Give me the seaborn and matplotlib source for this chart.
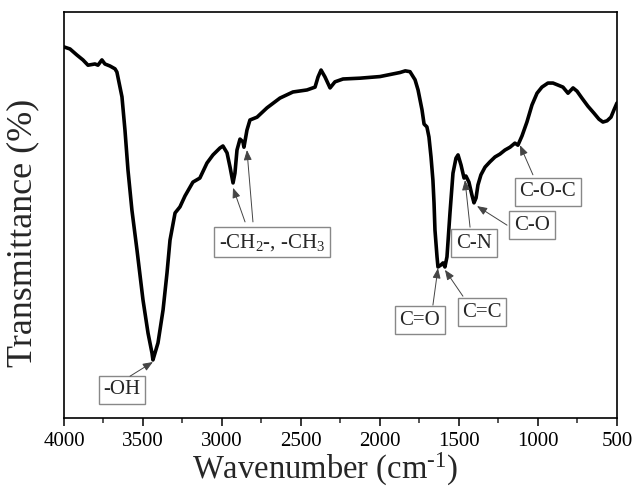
import matplotlib
matplotlib.use("Agg")
import matplotlib.pyplot as plt
from matplotlib.ticker import MultipleLocator
import seaborn as sns
import pandas as pd

# FTIR spectrum: wavenumber (cm^-1) and transmittance (%)
wavenumber = [4000, 3962, 3918, 3880, 3848, 3804, 3785, 3760, 3741, 3709, 3677, 3665,
              3633, 3614, 3595, 3570, 3538, 3500, 3468, 3443, 3437, 3405, 3373, 3348,
              3329, 3297, 3266, 3234, 3184, 3140, 3095, 3057, 3013, 2994, 2968, 2949,
              2930, 2918, 2905, 2886, 2867, 2861, 2842, 2823, 2778, 2715, 2633, 2551,
              2462, 2411, 2392, 2373, 2348, 2316, 2285, 2234, 2127, 2000, 1873, 1840,
              1810, 1778, 1759, 1734, 1721, 1703, 1690, 1677, 1665, 1658, 1652, 1639,
              1633, 1614, 1601, 1589, 1576, 1557, 1538, 1519, 1506, 1487, 1468, 1456,
              1437, 1418, 1405, 1392, 1380, 1361, 1335, 1304, 1272, 1241, 1209, 1177,
              1146, 1127, 1101, 1070, 1038, 1006, 975, 937, 905, 873, 842, 810, 778,
              753, 722, 684, 646, 614, 589, 563, 538, 519, 500]
transmittance = [91.4, 90.9, 89.4, 88.2, 86.9, 87.2, 86.9, 88.2, 87.2, 86.7, 86.0, 85.2,
                 79.1, 70.9, 61.1, 51.2, 41.4, 29.1, 20.9, 16.0, 14.3, 18.5, 26.6, 35.7,
                 43.8, 50.5, 52.0, 54.7, 58.1, 59.1, 62.8, 64.8, 66.5, 67.0, 65.3, 61.8,
                 57.9, 60.3, 66.0, 68.7, 68.0, 66.7, 70.9, 73.4, 74.1, 76.4, 78.8, 80.3,
                 80.8, 81.5, 84.0, 85.7, 84.0, 81.3, 82.8, 83.5, 83.7, 84.1, 85.1, 85.5,
                 85.3, 83.3, 80.8, 75.9, 72.4, 71.7, 69.2, 64.3, 58.6, 53.0, 46.3, 39.7,
                 37.2, 37.7, 38.2, 37.2, 39.7, 50.5, 60.3, 64.0, 64.8, 62.3, 59.1, 59.6,
                 58.1, 54.9, 53.0, 54.2, 57.4, 59.9, 61.8, 63.1, 64.3, 65.0, 66.0, 66.7,
                 67.7, 67.2, 69.5, 72.9, 77.1, 80.0, 81.5, 82.5, 82.5, 82.0, 81.5, 80.0,
                 81.3, 80.5, 78.8, 76.8, 75.1, 73.6, 72.9, 73.2, 74.1, 75.9, 77.6]

# Band assignments: label, label position (wn, T), arrow targets (wn, T), arrow tails (wn, T)
band_labels = ["-OH", "-CH$_2$-, -CH$_3$", "C=O", "C=C", "C-N", "C-O", "C-O-C"]
label_pos = [(3633, 6.9), (2684, 43.3), (1747, 24.1), (1354, 26.1), (1405, 43.1),
             (1038, 47.5), (937, 55.7)]
arrow_heads = [[(3437, 13.8)], [(2930, 56.7), (2842, 66.0)], [(1633, 36.9)],
               [(1589, 36.5)], [(1462, 58.6)], [(1386, 52.2)], [(1114, 67.2)]]
arrow_tails = [[(3582, 10.3)], [(2854, 48.3), (2804, 48.3)], [(1665, 27.8)],
               [(1475, 30.0)], [(1430, 47.0)], [(1196, 47.5)], [(1032, 59.9)]]

sns.set_theme(style="ticks")
plt.rcParams["font.family"] = ["Liberation Serif", "DejaVu Serif"]
plt.rcParams["mathtext.fontset"] = "custom"
plt.rcParams["mathtext.rm"] = "Liberation Serif"
plt.rcParams["mathtext.it"] = "Liberation Serif:italic"

fig = plt.figure(figsize=(6.36, 4.92), dpi=100)
ax = fig.add_axes([0.1006, 0.1504, 0.8695, 0.8252])

df = pd.DataFrame({"Wavenumber": wavenumber, "Transmittance": transmittance})
sns.lineplot(data=df, x="Wavenumber", y="Transmittance", color="black",
             linewidth=2.6, ax=ax, sort=False)

ax.set_xlim(4000, 500)
ax.set_ylim(0, 100)
ax.set_yticks([])
ax.xaxis.set_major_locator(MultipleLocator(500))
ax.xaxis.set_minor_locator(MultipleLocator(250))
ax.tick_params(axis="x", which="major", direction="out", length=6, width=1.1,
               labelsize=15, colors="black", pad=4, top=False)
ax.tick_params(axis="x", which="minor", direction="out", length=3.5, width=1.1,
               top=False, bottom=True)
for sp in ax.spines.values():
    sp.set_visible(True)
    sp.set_linewidth(1.2)
    sp.set_color("black")

ax.set_xlabel(r"Wavenumber (cm$^{\text{-1}}$)", fontsize=23.5)
ax.set_ylabel("Transmittance (%)", fontsize=26)
ax.xaxis.set_label_coords(0.472, -0.082)
ax.yaxis.set_label_coords(-0.045, 0.456)

for text, pos, heads, tails in zip(band_labels, label_pos, arrow_heads, arrow_tails):
    ax.text(pos[0], pos[1], text, fontsize=15, ha="center", va="center",
            bbox=dict(boxstyle="square,pad=0.22", fc="white", ec="#888888", lw=1.0),
            zorder=4)
    for head, tail in zip(heads, tails):
        ax.annotate("", xy=head, xytext=tail,
                    arrowprops=dict(arrowstyle="-|>,head_length=0.5,head_width=0.2",
                                    color="#444444", lw=0.7,
                                    shrinkA=0, shrinkB=0),
                    zorder=5)

fig.savefig("out.png", dpi=100)
